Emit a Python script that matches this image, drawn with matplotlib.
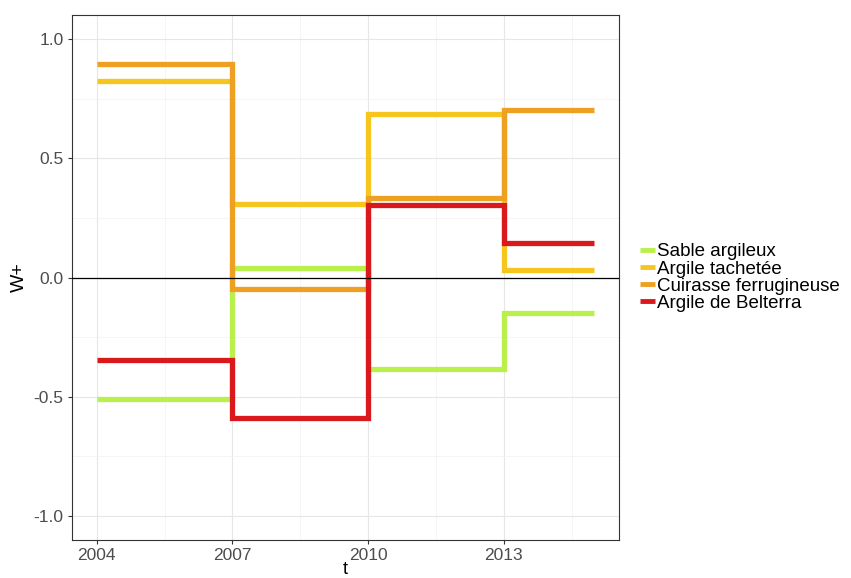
import numpy as np
import matplotlib.pyplot as plt

plt.rcParams['font.family'] = ['Liberation Sans', 'DejaVu Sans']

# données (valeurs par période, pas constants)
years = [2004, 2007, 2010, 2013, 2015]
series_names = ['Sable argileux', 'Argile tachetée', 'Cuirasse ferrugineuse', 'Argile de Belterra']
sable = [-0.51, 0.04, -0.385, -0.15]
tachetee = [0.825, 0.31, 0.685, 0.03]
cuirasse = [0.895, -0.05, 0.335, 0.70]
belterra = [-0.345, -0.59, 0.305, 0.145]
colors = ['#B9F04B', '#F6C61F', '#EDA021', '#D9191C']

fig = plt.figure(figsize=(8.51, 5.78), dpi=100)
ax = fig.add_axes([72 / 851, 38 / 578, 547 / 851, 525 / 578])

for vals, name, col in zip([sable, tachetee, cuirasse, belterra], series_names, colors):
    y = vals + [vals[-1]]
    ax.step(years, y, where='post', color=col, lw=3.8, label=name,
            solid_capstyle='butt', solid_joinstyle='miter')

ax.axhline(0, color='black', lw=0.9, zorder=5)

ax.set_xlim(2003.45, 2015.55)
ax.set_ylim(-1.1, 1.1)
ax.set_xticks([2004, 2007, 2010, 2013])
ax.set_xticks([2005.5, 2008.5, 2011.5, 2014.5], minor=True)
ax.set_yticks([-1.0, -0.5, 0.0, 0.5, 1.0])
ax.set_yticklabels(['-1.0', '-0.5', '0.0', '0.5', '1.0'])
ax.set_yticks([-0.75, -0.25, 0.25, 0.75], minor=True)
ax.grid(which='major', color='#E6E6E6', lw=0.8)
ax.grid(which='minor', color='#F2F2F2', lw=0.5)
ax.set_axisbelow(True)
ax.tick_params(which='major', length=3, color='#333333', labelsize=12.5, labelcolor='#4D4D4D', pad=3)
ax.tick_params(which='minor', length=0)
for s in ax.spines.values():
    s.set_color('#333333')
    s.set_linewidth(0.8)

ax.set_xlabel('t', fontsize=13, labelpad=-2)
ax.set_ylabel('W+', fontsize=14, labelpad=4)

leg = ax.legend(loc='center left', bbox_to_anchor=(1.0, 0.5), frameon=False,
                fontsize=13.5, handlelength=0.8, handletextpad=0.15,
                labelspacing=0.0, borderaxespad=0.7)
for h in leg.get_lines():
    h.set_linewidth(3.5)

fig.savefig('out.png', dpi=100)
